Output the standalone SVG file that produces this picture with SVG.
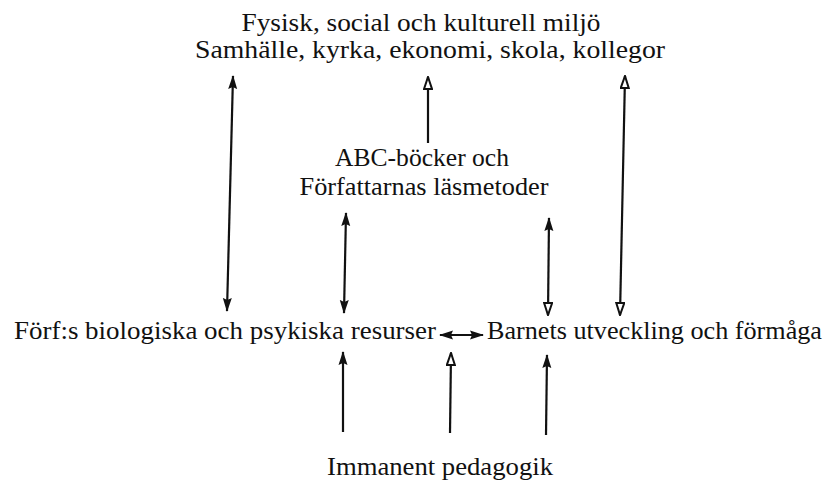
<svg xmlns="http://www.w3.org/2000/svg" width="830" height="482" viewBox="0 0 830 482">
<style>
.c{stroke:#111;stroke-width:2.2;fill:none;}
</style>
<defs>
<marker id="ah" viewBox="0 0 14 10" refX="13" refY="5" markerWidth="14" markerHeight="10" markerUnits="userSpaceOnUse" orient="auto-start-reverse">
<path d="M0,0.5 L14,5 L0,9.5 L2,5 z" fill="#111"/>
</marker>
<marker id="ao" viewBox="0 0 14 10" refX="13" refY="5" markerWidth="14" markerHeight="10" markerUnits="userSpaceOnUse" orient="auto-start-reverse">
<path d="M1,1 L13,5 L1,9 z" fill="#fff" stroke="#111" stroke-width="2"/>
</marker>
</defs>
<rect width="830" height="482" fill="#fff"/>
<g id="miljo" font-family="Liberation Serif" font-size="26" fill="#111">
<text x="421" y="31" text-anchor="middle" textLength="359" lengthAdjust="spacingAndGlyphs">Fysisk, social och kulturell miljö</text>
<text x="430" y="58" text-anchor="middle" textLength="470" lengthAdjust="spacingAndGlyphs">Samhälle, kyrka, ekonomi, skola, kollegor</text>
</g>
<g id="abc" font-family="Liberation Serif" font-size="26" fill="#111">
<text x="422" y="166" text-anchor="middle" textLength="174" lengthAdjust="spacingAndGlyphs">ABC-böcker och</text>
<text x="424" y="195" text-anchor="middle" textLength="249" lengthAdjust="spacingAndGlyphs">Författarnas läsmetoder</text>
</g>
<g id="forf" font-family="Liberation Serif" font-size="26" fill="#111">
<text x="14" y="339" textLength="422" lengthAdjust="spacingAndGlyphs">Förf:s biologiska och psykiska resurser</text>
</g>
<g id="barnet" font-family="Liberation Serif" font-size="26" fill="#111">
<text x="487" y="339" textLength="335" lengthAdjust="spacingAndGlyphs">Barnets utveckling och förmåga</text>
</g>
<g id="pedagogik" font-family="Liberation Serif" font-size="26" fill="#111">
<text x="440" y="475" text-anchor="middle" textLength="226" lengthAdjust="spacingAndGlyphs">Immanent pedagogik</text>
</g>
<g id="connectors">
<line class="c" x1="227" y1="311" x2="233" y2="76" marker-start="url(#ah)" marker-end="url(#ah)"/>
<line class="c" x1="428" y1="143" x2="428" y2="77" marker-end="url(#ao)"/>
<line class="c" x1="620" y1="315" x2="625" y2="76" marker-start="url(#ao)" marker-end="url(#ao)"/>
<line class="c" x1="344" y1="313" x2="346" y2="213" marker-start="url(#ah)" marker-end="url(#ah)"/>
<line class="c" x1="548" y1="315" x2="549" y2="218" marker-start="url(#ao)" marker-end="url(#ah)"/>
<line class="c" x1="440" y1="335" x2="483" y2="335" marker-start="url(#ah)" marker-end="url(#ah)"/>
<line class="c" x1="343" y1="432" x2="343" y2="352" marker-end="url(#ah)"/>
<line class="c" x1="450" y1="433" x2="451" y2="353" marker-end="url(#ao)"/>
<line class="c" x1="546" y1="435" x2="547" y2="355" marker-end="url(#ah)"/>
</g>
</svg>
